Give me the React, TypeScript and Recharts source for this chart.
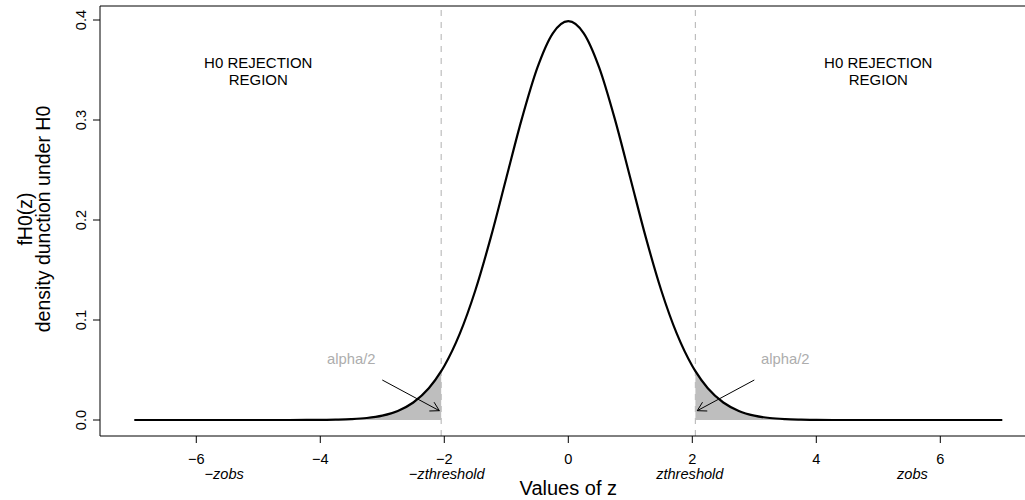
// Standard normal density under H0 with the two-sided rejection tails shaded.
import React from "react";
import {
  ComposedChart,
  Line,
  Area,
  XAxis,
  YAxis,
  ReferenceLine,
  ReferenceDot,
} from "recharts";

const FONT = "'Liberation Sans', Arial, Helvetica, sans-serif";

// z grid and the density
const zValues = [
  -7, -6, -5, -4.5, -4, -3.75, -3.5, -3.25, -3, -2.75, -2.5, -2.25, -2.05, -2,
  -1.75, -1.5, -1.25, -1, -0.75, -0.5, -0.25, 0, 0.25, 0.5, 0.75, 1, 1.25, 1.5,
  1.75, 2, 2.05, 2.25, 2.5, 2.75, 3, 3.25, 3.5, 3.75, 4, 4.5, 5, 6, 7,
];
const densityValues = [
  0, 0, 0, 0, 0.0001, 0.0004, 0.0009, 0.002, 0.0044, 0.0091, 0.0175, 0.0317,
  0.0488, 0.054, 0.0863, 0.1295, 0.1826, 0.242, 0.3011, 0.3521, 0.3867, 0.3989,
  0.3867, 0.3521, 0.3011, 0.242, 0.1826, 0.1295, 0.0863, 0.054, 0.0488, 0.0317,
  0.0175, 0.0091, 0.0044, 0.002, 0.0009, 0.0004, 0.0001, 0, 0, 0, 0,
];

const zThreshold = 2.05;
const xTicks = [-6, -4, -2, 0, 2, 4, 6];
const yTicks = [0, 0.1, 0.2, 0.3, 0.4];

// labels placed under the axis, at their z positions
const zMarkers = [
  { z: -5.55, text: "\u2212zobs" },
  { z: -1.96, text: "\u2212zthreshold" },
  { z: 1.96, text: "zthreshold" },
  { z: 5.55, text: "zobs" },
];
const regionLabels = [
  { z: -5, y: 0.344 },
  { z: 5, y: 0.344 },
];
const alphaLabels = [
  { z: -3.5, y: 0.061 },
  { z: 3.5, y: 0.061 },
];
const alphaArrows = [
  { from: { x: -3.0, y: 0.04 }, to: { x: -2.08, y: 0.0093 } },
  { from: { x: 3.0, y: 0.04 }, to: { x: 2.08, y: 0.0093 } },
];

const X_DOMAIN: [number, number] = [-7.553, 7.366];
const Y_DOMAIN: [number, number] = [-0.016, 0.414];

const rows = zValues.map((z, i) => ({
  z,
  density: densityValues[i],
  leftTail: z <= -zThreshold ? densityValues[i] : null,
  rightTail: z >= zThreshold ? densityValues[i] : null,
}));

const fmtMinus = (v: number) => (v < 0 ? `\u2212${Math.abs(v)}` : `${v}`);

const XTick = (props: any) => {
  const { x, y, payload } = props;
  return (
    <text x={x} y={y} dy="0.71em" textAnchor="middle" fontSize={14.6} fontFamily={FONT} fill="#000">
      {fmtMinus(payload.value)}
    </text>
  );
};

const YTick = (props: any) => {
  const { x, y, payload } = props;
  return (
    <text
      x={x}
      y={y}
      transform={`rotate(-90, ${x}, ${y})`}
      textAnchor="middle"
      fontSize={14.6}
      fontFamily={FONT}
      fill="#000"
    >
      {payload.value.toFixed(1)}
    </text>
  );
};

const YTitle = () => (
  <g fontFamily={FONT} fontSize={19.5} fill="#000">
    <text x={31.5} y={219} transform="rotate(-90, 31.5, 219)" textAnchor="middle">
      fH0(z)
    </text>
    <text x={49.5} y={219} transform="rotate(-90, 49.5, 219)" textAnchor="middle">
      density dunction under H0
    </text>
  </g>
);

const Arrow = (props: any) => {
  const { x1, y1, x2, y2 } = props;
  const a = Math.atan2(y2 - y1, x2 - x1);
  const len = 10;
  const spread = Math.PI / 6;
  const h1x = x2 - len * Math.cos(a - spread);
  const h1y = y2 - len * Math.sin(a - spread);
  const h2x = x2 - len * Math.cos(a + spread);
  const h2y = y2 - len * Math.sin(a + spread);
  return (
    <g stroke="#000" strokeWidth={1} fill="none">
      <line x1={x1} y1={y1} x2={x2} y2={y2} />
      <polyline points={`${h1x},${h1y} ${x2},${y2} ${h2x},${h2y}`} />
    </g>
  );
};

export default function App() {
  return (
    <div style={{ position: "absolute", left: 0, top: 0, background: "#fff" }}>
      <ComposedChart
        width={1025}
        height={500}
        data={rows}
        margin={{ top: 6, right: 0, bottom: 0, left: 60 }}
      >
        <XAxis
          type="number"
          dataKey="z"
          domain={X_DOMAIN}
          ticks={xTicks}
          allowDataOverflow
          height={64}
          tickSize={7}
          tickMargin={11}
          axisLine={{ stroke: "#000" }}
          tickLine={{ stroke: "#000" }}
          tick={<XTick />}
        />
        <YAxis
          type="number"
          domain={Y_DOMAIN}
          ticks={yTicks}
          allowDataOverflow
          width={40}
          tickSize={7}
          tickMargin={7}
          axisLine={{ stroke: "#000" }}
          tickLine={{ stroke: "#000" }}
          tick={<YTick />}
          label={{ content: () => <YTitle /> }}
        />
        <ReferenceLine y={Y_DOMAIN[1]} stroke="#000" strokeWidth={1} />
        <Area
          type="monotone"
          dataKey="leftTail"
          baseValue={0}
          stroke="none"
          fill="#BEBEBE"
          fillOpacity={1}
          isAnimationActive={false}
        />
        <Area
          type="monotone"
          dataKey="rightTail"
          baseValue={0}
          stroke="none"
          fill="#BEBEBE"
          fillOpacity={1}
          isAnimationActive={false}
        />
        <ReferenceLine x={-zThreshold} stroke="#BEBEBE" strokeWidth={1.2} strokeDasharray="6 6" />
        <ReferenceLine x={zThreshold} stroke="#BEBEBE" strokeWidth={1.2} strokeDasharray="6 6" />
        <Line
          type="monotone"
          dataKey="density"
          stroke="#000"
          strokeWidth={2.2}
          dot={false}
          isAnimationActive={false}
        />
        {alphaArrows.map((a, i) => (
          <ReferenceLine
            key={`arrow-${i}`}
            segment={[a.from, a.to]}
            ifOverflow="visible"
            shape={<Arrow />}
          />
        ))}
        {regionLabels.map((r, i) => (
          <ReferenceDot
            key={`region-${i}`}
            x={r.z}
            y={r.y}
            ifOverflow="visible"
            shape={(p: any) => (
              <text x={p.cx} y={p.cy} textAnchor="middle" fontFamily={FONT} fontSize={15} fill="#000">
                <tspan x={p.cx} dy={-8.5}>H0 REJECTION</tspan>
                <tspan x={p.cx} dy={17}>REGION</tspan>
              </text>
            )}
          />
        ))}
        {alphaLabels.map((r, i) => (
          <ReferenceDot
            key={`alpha-${i}`}
            x={r.z}
            y={r.y}
            ifOverflow="visible"
            shape={(p: any) => (
              <text x={p.cx} y={p.cy} dy={4.5} textAnchor="middle" fontFamily={FONT} fontSize={14.8} fill="#ADADAD">
                alpha/2
              </text>
            )}
          />
        ))}
        {zMarkers.map((m, i) => (
          <ReferenceDot
            key={`marker-${i}`}
            x={m.z}
            y={Y_DOMAIN[0]}
            ifOverflow="visible"
            shape={(p: any) => (
              <text
                x={p.cx}
                y={p.cy + 43}
                textAnchor="middle"
                fontFamily={FONT}
                fontSize={14.6}
                fontStyle="italic"
                fill="#000"
              >
                {m.text}
              </text>
            )}
          />
        ))}
        <ReferenceDot
          x={0}
          y={Y_DOMAIN[0]}
          ifOverflow="visible"
          shape={(p: any) => (
            <text x={p.cx} y={p.cy + 59} textAnchor="middle" fontFamily={FONT} fontSize={20} fill="#000">
              Values of z
            </text>
          )}
        />
      </ComposedChart>
    </div>
  );
}
